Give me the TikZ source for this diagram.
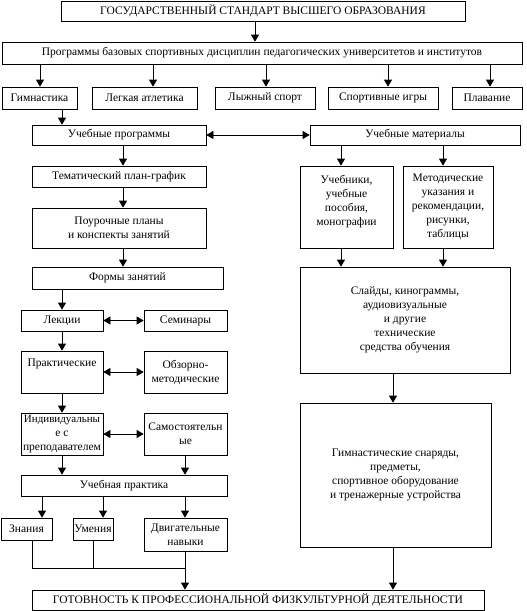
\documentclass[tikz,border=0pt]{standalone}
\usepackage{fontspec}
\setmainfont{Liberation Serif}
\usetikzlibrary{arrows.meta}
\newcommand\bx[6]{\node[box, minimum width={#4-#2}, minimum height={#5-#3}] (#1) at ({(#2+#4)/2},{(#3+#5)/2}) {#6};}
\begin{document}
\begin{tikzpicture}[x=1pt,y=-1pt,
  box/.style={draw, line width=0.7pt, inner sep=0pt, align=center, font=\fontsize{11.5}{14}\selectfont},
  arr/.style={line width=0.7pt, -{Triangle[length=7pt,width=8pt]}},
  dbl/.style={line width=0.7pt, {Triangle[length=7pt,width=8pt]}-{Triangle[length=7pt,width=8pt]}},
  ln/.style={line width=0.7pt}]
\useasboundingbox (0,0) rectangle (527,611);
\bx{top}{61}{1}{465}{21}{ГОСУДАРСТВЕННЫЙ СТАНДАРТ ВЫСШЕГО ОБРАЗОВАНИЯ}
\bx{prog}{2}{42}{522}{64}{Программы базовых спортивных дисциплин педагогических университетов и институтов}
\bx{gim}{2}{87}{77}{109}{Гимнастика}
\bx{leg}{92}{87}{197}{109}{Легкая атлетика}
\bx{lyzh}{215}{87}{315}{109}{Лыжный спорт}
\bx{sport}{328}{87}{438}{109}{Спортивные игры}
\bx{plav}{452}{87}{522}{109}{Плавание}
\bx{uprog}{32}{125}{206}{145}{Учебные программы}
\bx{umat}{310}{125}{520}{145}{Учебные материалы}
\bx{tem}{32}{166}{206}{187}{Тематический план-график}
\bx{uchebn}{300}{166}{393}{248}{Учебники,\\учебные\\пособия,\\монографии\\~}
\bx{metod}{403}{166}{493}{248}{Методические\\указания и\\рекомендации,\\рисунки,\\таблицы}
\bx{pour}{32}{208}{206}{248}{Поурочные планы\\и конспекты занятий}
\bx{formy}{32}{267}{223}{289}{Формы занятий}
\bx{slides}{300}{267}{510}{373}{Слайды, кинограммы,\\аудиовизуальные\\и другие\\технические\\средства обучения}
\bx{lek}{21}{310}{103}{331}{Лекции}
\bx{sem}{144}{310}{227}{331}{Семинары}
\bx{prak}{21}{351}{103}{393}{Практические\\[4pt]~}
\bx{obz}{144}{351}{227}{393}{Обзорно-\\методические}
\bx{ind}{21}{413}{103}{455}{\fontsize{11}{12.5}\selectfont Индивидуальны\\е с\\преподавателем}
\bx{sam}{144}{413}{227}{455}{Самостоятельн\\ые}
\bx{gymeq}{300}{403}{491}{547}{Гимнастические снаряды,\\предметы,\\спортивное оборудование\\и тренажерные устройства}
\bx{upr}{21}{475}{227}{496}{Учебная практика}
\bx{zn}{1}{518}{52}{540}{Знания}
\bx{um}{73}{518}{113}{540}{Умения}
\bx{dvig}{144}{518}{227}{551}{Двигательные\\навыки}
\bx{gotov}{32}{590}{484}{610}{ГОТОВНОСТЬ К ПРОФЕССИОНАЛЬНОЙ ФИЗКУЛЬТУРНОЙ ДЕЯТЕЛЬНОСТИ}
\foreach \v in {255,40,153,266,388,490,62,123,341,443,393,185,42,103}{\coordinate (x\v) at (\v,0);}
\coordinate (jz) at (32,568);
\coordinate (ju) at (93,568);
\coordinate (jd) at (185,568);
\draw[arr] (top.south -| x255) -- (prog.north -| x255);
\draw[arr] (prog.south -| x40) -- (gim.north -| x40);
\draw[arr] (prog.south -| x153) -- (leg.north -| x153);
\draw[arr] (prog.south -| x266) -- (lyzh.north -| x266);
\draw[arr] (prog.south -| x388) -- (sport.north -| x388);
\draw[arr] (prog.south -| x490) -- (plav.north -| x490);
\draw[arr] (gim.south -| x62) -- (uprog.north -| x62);
\draw[dbl] (uprog.east) -- (umat.west);
\draw[arr] (uprog.south -| x123) -- (tem.north -| x123);
\draw[arr] (tem.south -| x123) -- (pour.north -| x123);
\draw[arr] (pour.south -| x123) -- (formy.north -| x123);
\draw[arr] (umat.south -| x341) -- (uchebn.north -| x341);
\draw[arr] (umat.south -| x443) -- (metod.north -| x443);
\draw[arr] (uchebn.south -| x341) -- (slides.north -| x341);
\draw[arr] (metod.south -| x443) -- (slides.north -| x443);
\draw[arr] (slides.south -| x393) -- (gymeq.north -| x393);
\draw[arr] (gymeq.south -| x393) -- (gotov.north -| x393);
\draw[arr] (formy.south -| x62) -- (lek.north -| x62);
\draw[dbl] (lek.east) -- (sem.west);
\draw[arr] (lek.south -| x62) -- (prak.north -| x62);
\draw[dbl] (prak.east) -- (obz.west);
\draw[arr] (prak.south -| x62) -- (ind.north -| x62);
\draw[dbl] (ind.east) -- (sam.west);
\draw[arr] (ind.south -| x62) -- (upr.north -| x62);
\draw[arr] (sam.south -| x185) -- (upr.north -| x185);
\draw[arr] (upr.south -| x42) -- (zn.north -| x42);
\draw[arr] (upr.south -| x103) -- (um.north -| x103);
\draw[arr] (upr.south -| x185) -- (dvig.north -| x185);
\draw[ln] (zn.south -| jz) -- (jz) -- (jd);
\draw[ln] (um.south -| ju) -- (ju);
\draw[arr] (dvig.south -| jd) -- (gotov.north -| jd);
\end{tikzpicture}
\end{document}
